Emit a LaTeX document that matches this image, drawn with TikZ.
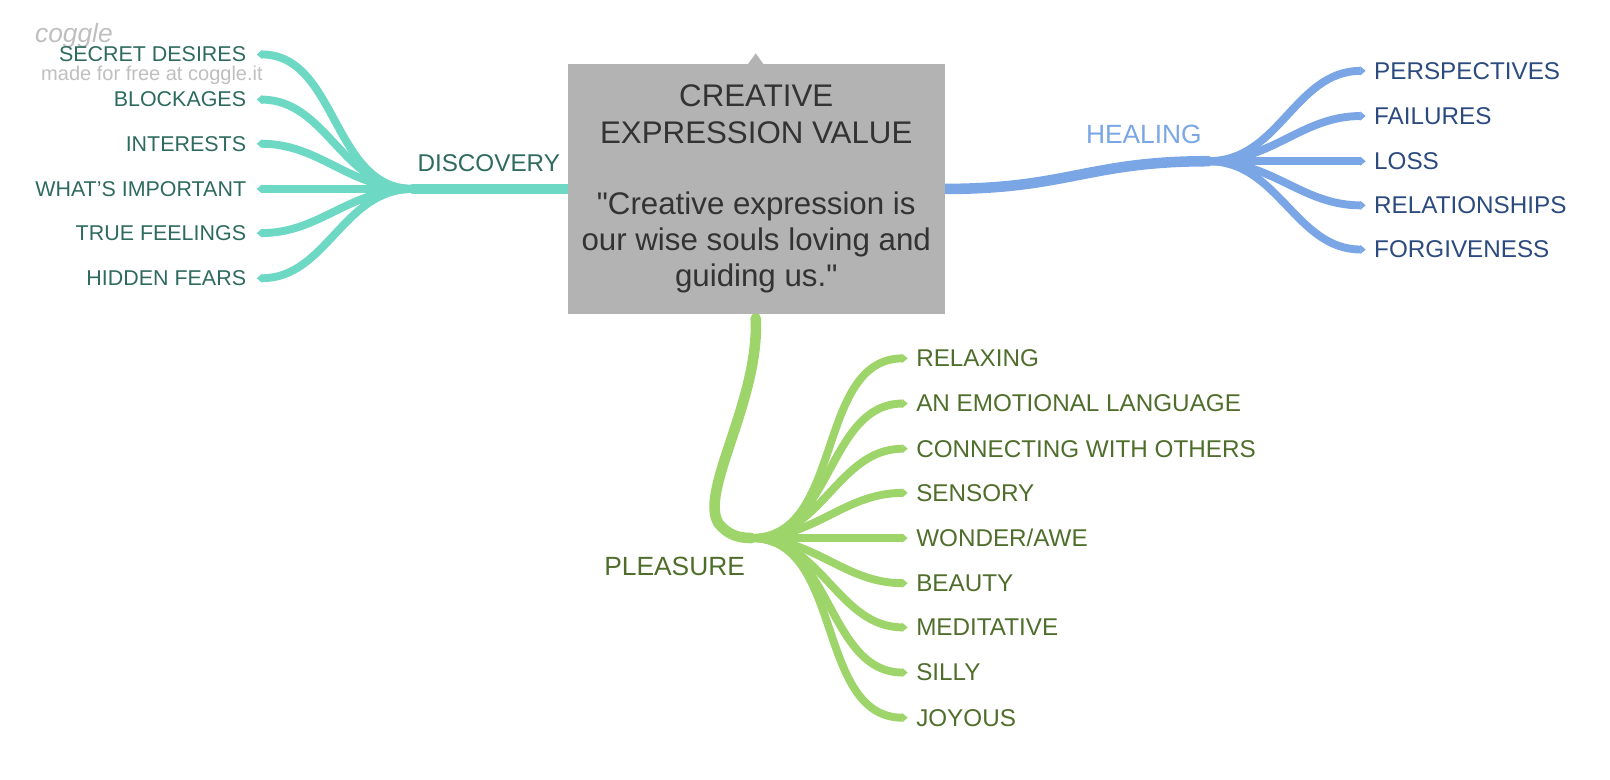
\documentclass[tikz,border=0pt]{standalone}
\usepackage{fontspec}
\setmainfont{Liberation Sans}
\newfontfamily\boxfont{Liberation Sans}
\usetikzlibrary{arrows.meta, positioning}
\definecolor{boxgray}{HTML}{B3B3B3}
\definecolor{textdark}{HTML}{333333}
\definecolor{teal}{HTML}{6DD8C3}
\definecolor{tealtext}{HTML}{2E6B5E}
\definecolor{blueline}{HTML}{7BA6E6}
\definecolor{bluetext}{HTML}{2B4A7E}
\definecolor{greenline}{HTML}{9ED56A}
\definecolor{greentext}{HTML}{4F6E2B}
\tikzset{
  trunk/.style={line width=6pt, line cap=round},
  leaf/.style={line width=4.5pt, -{Triangle[length=3pt,width=5pt]}},
  leaflabel/.style={font=\fontsize{13.8}{16}\selectfont, inner sep=0pt},
  smallleaf/.style={font=\fontsize{12.2}{14}\selectfont, inner sep=0pt},
  branchlabel/.style={font=\fontsize{15}{18}\selectfont, inner sep=0pt}
}
\begin{document}
\begin{tikzpicture}[x=0.02054cm, y=0.02054cm]
  \useasboundingbox (0,0) rectangle (1568,-759);

  % watermark
  \node[text=gray!50, font=\itshape\fontsize{15}{17}\selectfont] (logo) at (72,-35) {coggle};
  \node[text=gray!50, font=\fontsize{11.4}{13}\selectfont] (made) at (148,-73) {made for free at coggle.it};

  % hubs and anchors
  \coordinate (cl) at (553,-184);
  \coordinate (cr) at (920,-184);
  \coordinate (cb) at (736,-310);
  \coordinate (dhub) at (402,-184);
  \coordinate (hhub) at (1177,-157);
  \coordinate (phub) at (732,-524);

  % discovery
  \draw[teal, trunk] (cl) -- (dhub);
  \node[branchlabel, font=\fontsize{13.8}{16}\selectfont, text=tealtext] (disc) at (476,-159) {DISCOVERY};
  \foreach \y/\t [count=\i] in {53/SECRET DESIRES, 97/BLOCKAGES, 140/INTERESTS,
      184/WHAT'S IMPORTANT, 227/TRUE FEELINGS, 271/HIDDEN FEARS} {
    \coordinate (d\i) at (250,-\y);
    \draw[teal, leaf] (dhub) to[out=180, in=0] (d\i);
    \node[smallleaf, text=tealtext, anchor=east] (dl\i) at (240,-\y) {\t};
  }

  % healing
  \draw[blueline, trunk] (cr) .. controls (1040,-184) and (1060,-157) .. (hhub);
  \node[branchlabel, text=blueline] (heal) at (1114,-131) {HEALING};
  \foreach \y/\t [count=\i] in {69/PERSPECTIVES, 113/FAILURES, 157/LOSS,
      200/RELATIONSHIPS, 243/FORGIVENESS} {
    \coordinate (h\i) at (1330,-\y);
    \draw[blueline, leaf] (hhub) to[out=0, in=180] (h\i);
    \node[leaflabel, text=bluetext, anchor=west] (hl\i) at (1338,-\y) {\t};
  }

  % pleasure
  \draw[greenline, trunk] (cb) .. controls (740,-390) and (680,-480) .. (700,-510)
    to[out=-50, in=180] (phub);
  \node[branchlabel, text=greentext] (plea) at (657,-552) {PLEASURE};
  \foreach \y/\t [count=\i] in {349/RELAXING, 393/AN EMOTIONAL LANGUAGE,
      437/CONNECTING WITH OTHERS, 480/SENSORY, 524/{WONDER/AWE}, 568/BEAUTY,
      611/MEDITATIVE, 655/SILLY, 699/JOYOUS} {
    \coordinate (p\i) at (884,-\y);
    \draw[greenline, leaf] (phub) to[out=0, in=180] (p\i);
    \node[leaflabel, text=greentext, anchor=west] (pl\i) at (892,-\y) {\t};
  }

  % central box
  \fill[boxgray] (736,-52) -- (744,-63) -- (728,-63) -- cycle;
  \node[fill=boxgray, minimum width=7.54cm, minimum height=5.01cm,
        inner sep=0pt, text=textdark, align=center,
        font=\boxfont\fontsize{17.8}{20.5}\selectfont] (main) at (736.5,-184)
    {CREATIVE\\EXPRESSION VALUE\\[20pt]"Creative expression is\\our wise souls loving and\\guiding us."};
\end{tikzpicture}
\end{document}
